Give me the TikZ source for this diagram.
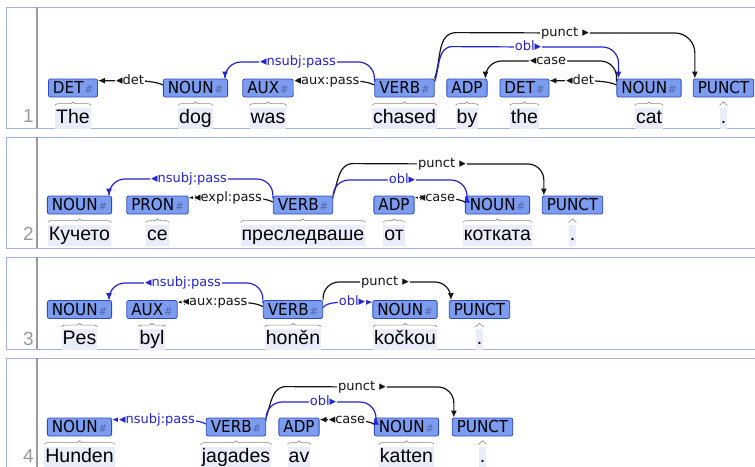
\documentclass[tikz,border=0pt]{standalone}
\usepackage{fontspec}
\setmainfont{Liberation Sans}
\newfontfamily\tagfont[FakeStretch=0.92]{DejaVu Sans}
\newfontfamily\labfont{DejaVu Sans}
\usetikzlibrary{positioning,arrows.meta,decorations.pathreplacing}
\definecolor{tagfill}{RGB}{124,156,240}
\definecolor{tagline}{RGB}{45,75,190}
\definecolor{hashcol}{RGB}{85,105,170}
\definecolor{wordbg}{RGB}{233,237,250}
\definecolor{framecol}{RGB}{160,178,232}
\definecolor{arcblue}{RGB}{35,35,215}
\definecolor{arcblack}{RGB}{20,20,20}
\definecolor{bracecol}{RGB}{150,135,120}
\newcommand\feat{\kern1pt{\color{hashcol}\fontsize{11}{11}\selectfont\#}}

\begin{document}
\begin{tikzpicture}[x=1pt, y=-1pt,
		panel/.style={draw=framecol, line width=0.8pt},
		divider/.style={draw=black!40, line width=1.5pt},
		lnum/.style={anchor=base east, text=black!40, inner sep=0pt, font=\fontsize{19}{19}\selectfont},
		tag/.style={draw=tagline, fill=tagfill, rounded corners=2pt, line width=0.8pt, inner xsep=4.5pt, inner ysep=0pt, minimum height=18pt, text height=12pt, text depth=1pt, font=\tagfont\fontsize{16.5}{16.5}\selectfont},
		word/.style={fill=wordbg, inner xsep=1pt, inner ysep=1pt, text height=14.5pt, text depth=4.5pt, font=\fontsize{19.5}{20}\selectfont},
		brace/.style={draw=bracecol, line width=0.6pt, decorate, decoration={brace, amplitude=3.5pt}},
		arc/.style={draw=arcblack, line width=1.2pt, rounded corners=16pt, -{Latex[length=7pt,width=6pt]}},
		barc/.style={arc, draw=arcblue},
		flat/.style={out=150, in=0, looseness=0.6},
		rise/.style={out=70, in=180},
		lab/.style={fill=white, inner xsep=1pt, inner ysep=0pt, text height=9pt, text depth=3pt, text=arcblack, font=\labfont\fontsize{13}{13}\selectfont},
		blab/.style={lab, text=arcblue}
		]
		
		\useasboundingbox (0,0) rectangle (755,466);
		
		% Sentence 1
		\draw[panel] (6,7) rectangle (762,128);
		\draw[divider] (37,7) -- (37,128);
		\node[lnum] (n1) at (34,122) {1};
		\node[tag] (the) at (73,88) {DET\feat};
		\node[tag] (dog) at (195.5,88) {NOUN\feat};
		\node[tag] (was) at (268,88) {AUX\feat};
		\node[tag] (chased) at (404.5,88) {VERB\feat};
		\node[tag] (by) at (467,88) {ADP};
		\node[tag] (the2) at (524.5,88) {DET\feat};
		\node[tag] (cat) at (649,88) {NOUN\feat};
		\node[tag] (dot1) at (723.5,88) {PUNCT};
		\node[word, below=10pt of the] (the-w) {The};
		\node[word, below=10pt of dog] (dog-w) {dog};
		\node[word, below=10pt of was] (was-w) {was};
		\node[word, below=10pt of chased] (chased-w) {chased};
		\node[word, below=10pt of by] (by-w) {by};
		\node[word, below=10pt of the2] (the2-w) {the};
		\node[word, below=10pt of cat] (cat-w) {cat};
		\node[word, below=10pt of dot1] (dot1-w) {.};
		\foreach \w in {the,dog,was,chased,by,the2,cat,dot1}
			\draw[brace] ([yshift=2pt]\w-w.north west) -- ([yshift=2pt]\w-w.north east);
		\draw[arc] ([yshift=3pt]dog.west) to[flat] (130,81) node[lab] (det1) {◂det} -- ([yshift=-2pt]the.north east);
		\draw[barc] ([yshift=-3pt]chased.north west) |- (298,62) node[blab] (nsubj1) {◂nsubj:pass} -| ([xshift=-3pt]dog.north east);
		\draw[arc] ([yshift=3pt]chased.west) to[flat] (327,81) node[lab] (aux1) {◂aux:pass} -- ([yshift=-2pt]was.north east);
		\draw[arc, sharp corners] (chased.north east) to[rise] ++(22,-46) -- (565,33) node[lab] (punct1) {punct ▸} [rounded corners=20pt] -| ([xshift=2pt]dot1.north west);
		\draw[barc, sharp corners] ([yshift=-3pt]chased.north east) to[rise] ++(18,-35) -- (528,47) node[blab] (obl1) {obl▸} [rounded corners=16pt] -| ([xshift=2pt]cat.north west);
		\draw[arc] ([yshift=-3pt]cat.north west) |- (548,61) node[lab] (case1) {◂case} -| ([xshift=-2pt]by.north east);
		\draw[arc] ([yshift=3pt]cat.west) to[flat] (580,81) node[lab] (det2) {◂det} -- ([yshift=-2pt]the2.north east);
		
		% Sentence 2
		\draw[panel] (6,137) rectangle (762,248);
		\draw[divider] (37,137) -- (37,248);
		\node[lnum] (n2) at (34,240) {2};
		\node[tag] (kuceto) at (79.5,205) {NOUN\feat};
		\node[tag] (se) at (157.5,205) {PRON\feat};
		\node[tag] (presl) at (303,205) {VERB\feat};
		\node[tag] (ot) at (394,205) {ADP};
		\node[tag] (kotkata) at (497.5,205) {NOUN\feat};
		\node[tag] (dot2) at (572.5,205) {PUNCT};
		\node[word, below=10pt of kuceto] (kuceto-w) {Кучето};
		\node[word, below=10pt of se] (se-w) {се};
		\node[word, below=10pt of presl] (presl-w) {преследваше};
		\node[word, below=10pt of ot] (ot-w) {от};
		\node[word, below=10pt of kotkata] (kotkata-w) {котката};
		\node[word, below=10pt of dot2] (dot2-w) {.};
		\foreach \w in {kuceto,se,presl,ot,kotkata,dot2}
			\draw[brace] ([yshift=2pt]\w-w.north west) -- ([yshift=2pt]\w-w.north east);
		\draw[barc] ([yshift=-3pt]presl.north west) |- (189,179) node[blab] (nsubj2) {◂nsubj:pass} -| ([xshift=-3pt]kuceto.north east);
		\draw[arc] ([yshift=3pt]presl.west) to[flat] (228,198) node[lab] (expl2) {◂expl:pass} -- ([yshift=-2pt]se.north east);
		\draw[arc, sharp corners] (presl.north east) to[rise] ++(20,-32) -- (442,164) node[lab] (punct2) {punct ▸} [rounded corners=16pt] -| ([xshift=2pt]dot2.north west);
		\draw[barc] ([yshift=-3pt]presl.north east) |- (402,180) node[blab] (obl2) {obl▸} -| ([xshift=2pt]kotkata.north west);
		\draw[arc] ([yshift=3pt]kotkata.west) to[flat] (437,198) node[lab] (case2) {◂case} -- ([yshift=-2pt]ot.north east);
		
		% Sentence 3
		\draw[panel] (6,257) rectangle (762,349);
		\draw[divider] (37,257) -- (37,349);
		\node[lnum] (n3) at (34,345) {3};
		\node[tag] (pes) at (79.5,309.5) {NOUN\feat};
		\node[tag] (byl) at (152,309.5) {AUX\feat};
		\node[tag] (honen) at (293,309.5) {VERB\feat};
		\node[tag] (kockou) at (405,309.5) {NOUN\feat};
		\node[tag] (dot3) at (479.5,309.5) {PUNCT};
		\node[word, below=10pt of pes] (pes-w) {Pes};
		\node[word, below=10pt of byl] (byl-w) {byl};
		\node[word, below=10pt of honen] (honen-w) {honěn};
		\node[word, below=10pt of kockou] (kockou-w) {kočkou};
		\node[word, below=10pt of dot3] (dot3-w) {.};
		\foreach \w in {pes,byl,honen,kockou,dot3}
			\draw[brace] ([yshift=2pt]\w-w.north west) -- ([yshift=2pt]\w-w.north east);
		\draw[barc] ([yshift=-3pt]honen.north west) |- (183,283) node[blab] (nsubj3) {◂nsubj:pass} -| ([xshift=-3pt]pes.north east);
		\draw[arc] ([yshift=3pt]honen.west) to[flat] (215,302.5) node[lab] (aux3) {◂aux:pass} -- ([yshift=-2pt]byl.north east);
		\draw[arc] (honen.north east) |- (385,282) node[lab] (punct3) {punct ▸} -| ([xshift=2pt]dot3.north west);
		\draw[barc] ([yshift=2pt]honen.east) to[out=60, in=180, looseness=0.6] (352,302.5) node[blab] (obl3) {obl▸} -- ([yshift=-2pt]kockou.north west);
		
		% Sentence 4
		\draw[panel] (6,358) rectangle (762,480);
		\draw[divider] (37,358) -- (37,480);
		\node[lnum] (n4) at (34,462) {4};
		\node[tag] (hunden) at (79.5,427) {NOUN\feat};
		\node[tag] (jagades) at (236,427) {VERB\feat};
		\node[tag] (av) at (299,427) {ADP};
		\node[tag] (katten) at (406.5,427) {NOUN\feat};
		\node[tag] (dot4) at (482.5,427) {PUNCT};
		\node[word, below=10pt of hunden] (hunden-w) {Hunden};
		\node[word, below=10pt of jagades] (jagades-w) {jagades};
		\node[word, below=10pt of av] (av-w) {av};
		\node[word, below=10pt of katten] (katten-w) {katten};
		\node[word, below=10pt of dot4] (dot4-w) {.};
		\foreach \w in {hunden,jagades,av,katten,dot4}
			\draw[brace] ([yshift=2pt]\w-w.north west) -- ([yshift=2pt]\w-w.north east);
		\draw[barc] ([yshift=3pt]jagades.west) to[flat] (157,420) node[blab] (nsubj4) {◂nsubj:pass} -- ([yshift=-2pt]hunden.north east);
		\draw[arc, sharp corners] (jagades.north east) to[rise] ++(20,-31) -- (362,387) node[lab] (punct4) {punct ▸} [rounded corners=16pt] -| ([xshift=2pt]dot4.north west);
		\draw[barc] ([yshift=-3pt]jagades.north east) |- (323,402) node[blab] (obl4) {obl▸} -| ([xshift=2pt]katten.north west);
		\draw[arc] ([yshift=3pt]katten.west) to[flat] (347,420) node[lab] (case4) {◂case} -- ([yshift=-2pt]av.north east);
	\end{tikzpicture}
\end{document}
